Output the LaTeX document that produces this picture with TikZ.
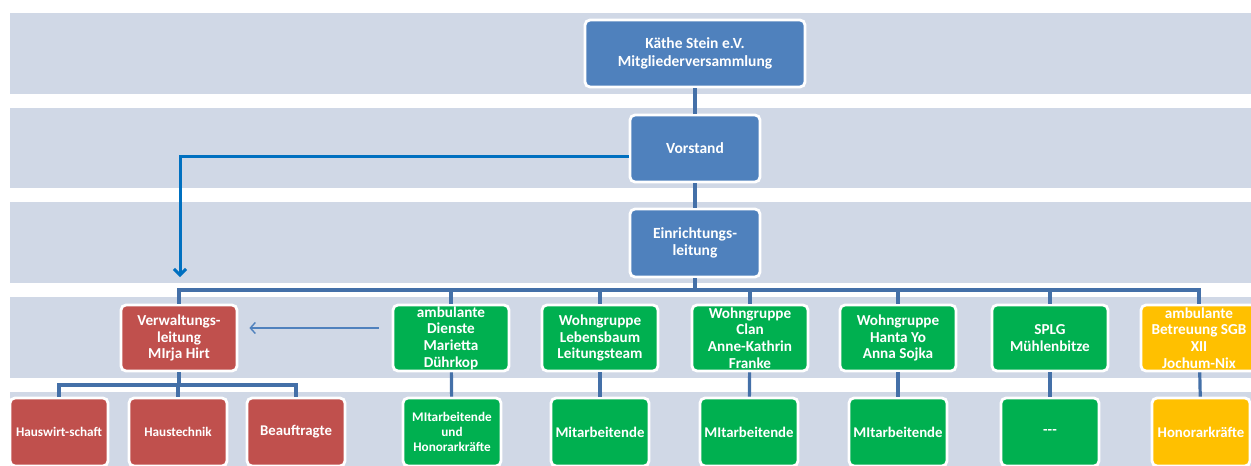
\documentclass[tikz,border=0pt]{standalone}
\usepackage{fontspec}
\setmainfont{Carlito}
\usetikzlibrary{arrows.meta,positioning}

\definecolor{bandgray}{HTML}{D0D8E6}
\definecolor{topblue}{HTML}{4F81BD}
\definecolor{admred}{HTML}{C0504D}
\definecolor{grpgreen}{HTML}{00B050}
\definecolor{ambgold}{HTML}{FFC000}
\definecolor{wire}{HTML}{4470A8}
\definecolor{callblue}{HTML}{0070C0}

\tikzset{
  unit/.style={draw=white, line width=2.8pt, rounded corners=5pt,
    text=white, align=center, inner sep=1pt},
  topunit/.style={unit, fill=topblue, minimum height=67pt,
    font=\bfseries\fontsize{15.5}{17.5}\selectfont},
  midunit/.style={unit, minimum width=116pt, minimum height=66pt,
    font=\bfseries\fontsize{15.2}{16.6}\selectfont},
  lowunit/.style={unit, minimum width=98pt, minimum height=68pt,
    font=\bfseries\fontsize{14.8}{16}\selectfont},
  smalltext/.style={font=\bfseries\fontsize{13.2}{15}\selectfont},
  wireline/.style={draw=wire, line width=3.2pt},
}

\begin{document}
\begin{tikzpicture}[x=1pt,y=-1pt]

  \useasboundingbox (0,0) rectangle (1251,466);

  % bands
  \fill[bandgray] (10,13) rectangle (1251,94);
  \fill[bandgray] (10,108) rectangle (1251,188);
  \fill[bandgray] (10,202) rectangle (1251,283);
  \fill[bandgray] (10,297) rectangle (1251,378);
  \fill[bandgray] (10,392) rectangle (1251,466);

  % top
  \node[topunit, minimum width=220pt] (verein) at (695,53.5)
    {Käthe Stein e.V.\\Mitgliederversammlung};
  \node[topunit, minimum width=130pt] (vorstand) at (695,148.5) {Vorstand};
  \node[topunit, minimum width=130pt, minimum height=68pt] (leitung) at (695,243)
    {Einrichtungs-\\leitung};

  % row 2
  \node[midunit, fill=admred] (verw) at (179,338)
    {Verwaltungs-\\leitung\\MIrja Hirt};
  \node[midunit, fill=grpgreen] (ambd) at (451,338)
    {ambulante\\Dienste\\Marietta\\Dührkop};
  \node[midunit, fill=grpgreen] (lebens) at (600,338)
    {Wohngruppe\\Lebensbaum\\Leitungsteam};
  \node[midunit, fill=grpgreen] (clan) at (750,338)
    {Wohngruppe\\Clan\\Anne-Kathrin\\Franke};
  \node[midunit, fill=grpgreen] (hanta) at (898,338)
    {Wohngruppe\\Hanta Yo\\Anna Sojka};
  \node[midunit, fill=grpgreen] (splg) at (1050,338)
    {SPLG\\Mühlenbitze};
  \node[midunit, fill=ambgold] (ambb) at (1199,338)
    {ambulante\\Betreuung SGB\\XII\\Jochum-Nix};

  % row 3
  \node[lowunit, smalltext, fill=admred] (haus) at (59,432) {Hauswirt-schaft};
  \node[lowunit, smalltext, fill=admred] (technik) at (178,432) {Haustechnik};
  \node[lowunit, fill=admred] (beauf) at (296,432) {Beauftragte};
  \node[lowunit, smalltext, fill=grpgreen] (ambdma) at (452,432)
    {MItarbeitende\\und\\Honorarkräfte};
  \node[lowunit, fill=grpgreen] (lebensma) at (600,432) {Mitarbeitende};
  \node[lowunit, fill=grpgreen] (clanma) at (749,432) {MItarbeitende};
  \node[lowunit, fill=grpgreen] (hantama) at (898,432) {MItarbeitende};
  \node[lowunit, fill=grpgreen] (splgma) at (1050,432) {-{}-{}-};
  \node[lowunit, fill=ambgold] (ambbma) at (1201,432) {Honorarkräfte};

  % connectors
  \draw[wireline] (verein) -- (vorstand);
  \draw[wireline] (vorstand) -- (leitung);
  \coordinate (bus) at (695,290);
  \draw[wireline] (leitung.south) -- (bus);
  \draw[wireline] (verw.north) |- (bus) -| (ambb.north);
  \draw[wireline] (ambd.north) -- (ambd.north |- bus);
  \draw[wireline] (lebens.north) -- (lebens.north |- bus);
  \draw[wireline] (clan.north) -- (clan.north |- bus);
  \draw[wireline] (hanta.north) -- (hanta.north |- bus);
  \draw[wireline] (splg.north) -- (splg.north |- bus);

  \coordinate (subbus) at (179,385);
  \draw[wireline] (verw.south) -- (subbus);
  \draw[wireline] (haus.north) |- (subbus) -| (beauf.north);
  \draw[wireline] (technik.north) -- (technik.north |- subbus);

  \draw[wireline] (ambd) -- (ambdma);
  \draw[wireline] (lebens) -- (lebensma);
  \draw[wireline] (clan) -- (clanma);
  \draw[wireline] (hanta) -- (hantama);
  \draw[wireline] (splg) -- (splgma);
  \draw[wireline] (ambb) -- (ambbma);

  % Vorstand to Verwaltung
  \coordinate (vtip) at (180,277);
  \draw[callblue, line width=3pt, -{Straight Barb[length=6pt,width=12pt]}]
    ([yshift=-8pt]vorstand.west) -| (vtip);
  \draw[topblue, line width=1.4pt, -{Straight Barb[length=5pt,width=11pt]}]
    ([xshift=-13pt,yshift=10pt]ambd.west) -- ([xshift=11pt,yshift=10pt]verw.east);

\end{tikzpicture}
\end{document}
